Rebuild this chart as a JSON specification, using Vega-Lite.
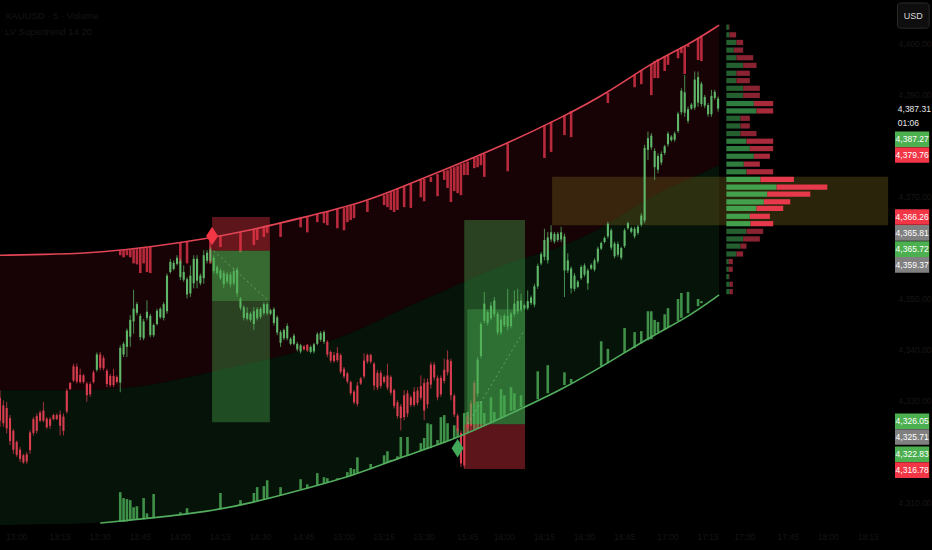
{
"$schema":"https://vega.github.io/schema/vega-lite/v6.json",
"width":932,"height":550,"padding":0,"autosize":{"type":"none"},
"background":"#000000",
"config":{"view":{"stroke":null},"text":{"font":"Liberation Sans"}},
"datasets":{
"bands":[
{"bar":0,"upper":4358.5,"mid":4332.0,"lower":4305.5},
{"bar":18,"upper":4358.7,"mid":4332.0,"lower":4305.7},
{"bar":30,"upper":4359.1,"mid":4332.0,"lower":4305.9},
{"bar":45,"upper":4360.1,"mid":4332.8,"lower":4306.85},
{"bar":63,"upper":4361.9,"mid":4335.5,"lower":4308.2},
{"bar":75,"upper":4363.4,"mid":4337.3,"lower":4309.8},
{"bar":90,"upper":4365.8,"mid":4339.5,"lower":4312.35},
{"bar":108,"upper":4368.75,"mid":4343.8,"lower":4315.7},
{"bar":118,"upper":4371.3,"mid":4347.3,"lower":4318.4},
{"bar":135,"upper":4375.8,"mid":4352.05,"lower":4322.0},
{"bar":152,"upper":4380.5,"mid":4357.2,"lower":4327.1},
{"bar":168,"upper":4385.5,"mid":4359.9,"lower":4332.0},
{"bar":182,"upper":4390.4,"mid":4364.4,"lower":4337.3},
{"bar":195,"upper":4396.3,"mid":4370.3,"lower":4342.6},
{"bar":206,"upper":4399.8,"mid":4373.3,"lower":4346.35},
{"bar":215.3,"upper":4403.7,"mid":4376.2,"lower":4350.7}
],
"redBars":[
{"bar":36,"price":4359.5,"end":4358.5},{"bar":37,"price":4359.5,"end":4358.1},{"bar":38,"price":4359.5,"end":4358.5},{"bar":39,"price":4359.6,"end":4358.1},{"bar":40,"price":4359.7,"end":4356.9},{"bar":41,"price":4359.7,"end":4356.7},{"bar":42,"price":4359.9,"end":4355.0},{"bar":43,"price":4359.9,"end":4356.9},{"bar":44,"price":4360.0,"end":4355.2},{"bar":45,"price":4360.1,"end":4355.0},{"bar":54,"price":4360.9,"end":4356.9},{"bar":56,"price":4361.1,"end":4356.9},{"bar":63,"price":4361.9,"end":4356.9},{"bar":66,"price":4362.3,"end":4360.1},{"bar":72,"price":4363.05,"end":4359.1},{"bar":76,"price":4363.6,"end":4360.5},{"bar":77,"price":4363.8,"end":4361.5},{"bar":79,"price":4364.2,"end":4362.1},{"bar":80,"price":4364.4,"end":4362.9},{"bar":84,"price":4365.0,"end":4362.1},{"bar":90,"price":4365.8,"end":4364.0},{"bar":92,"price":4366.0,"end":4363.0},{"bar":95,"price":4366.6,"end":4365.0},{"bar":97,"price":4366.8,"end":4364.8},{"bar":98,"price":4367.0,"end":4364.4},{"bar":101,"price":4367.6,"end":4363.8},{"bar":103,"price":4367.75,"end":4363.4},{"bar":104,"price":4368.0,"end":4365.0},{"bar":105,"price":4368.2,"end":4365.4},{"bar":106,"price":4368.35,"end":4365.8},{"bar":110,"price":4369.3,"end":4367.0},{"bar":115,"price":4370.3,"end":4368.35},{"bar":116,"price":4370.6,"end":4367.95},{"bar":117,"price":4370.9,"end":4367.4},{"bar":118,"price":4371.1,"end":4367.0},{"bar":119,"price":4371.5,"end":4367.4},{"bar":121,"price":4372.1,"end":4367.95},{"bar":123,"price":4372.5,"end":4367.8},{"bar":126,"price":4373.3,"end":4369.9},{"bar":127,"price":4373.5,"end":4369.1},{"bar":129,"price":4373.9,"end":4372.9},{"bar":131,"price":4374.45,"end":4370.1},{"bar":133,"price":4375.05,"end":4373.3},{"bar":134,"price":4375.2,"end":4371.7},{"bar":135,"price":4375.6,"end":4368.95},{"bar":136,"price":4375.8,"end":4371.1},{"bar":137,"price":4376.1,"end":4370.7},{"bar":138,"price":4376.4,"end":4370.3},{"bar":139,"price":4376.6,"end":4374.25},{"bar":140,"price":4376.9,"end":4374.25},{"bar":142,"price":4377.6,"end":4375.6},{"bar":143,"price":4377.8,"end":4375.8},{"bar":144,"price":4378.2,"end":4376.2},{"bar":145,"price":4378.4,"end":4373.9},{"bar":152,"price":4380.5,"end":4375.0},{"bar":163,"price":4384.1,"end":4377.6},{"bar":165,"price":4384.7,"end":4378.8},{"bar":169,"price":4386.0,"end":4382.1},{"bar":171,"price":4386.8,"end":4381.7},{"bar":182,"price":4390.4,"end":4388.4},{"bar":190,"price":4393.9,"end":4391.5},{"bar":192,"price":4394.9,"end":4392.1},{"bar":195,"price":4396.1,"end":4389.95},{"bar":196,"price":4396.65,"end":4393.3},{"bar":197,"price":4397.05,"end":4393.3},{"bar":199,"price":4397.6,"end":4394.7},{"bar":200,"price":4397.8,"end":4395.9},{"bar":203,"price":4399.0,"end":4397.2},{"bar":204,"price":4399.4,"end":4398.2},{"bar":205,"price":4399.6,"end":4394.1},{"bar":206,"price":4400.0,"end":4399.4},{"bar":209,"price":4401.2,"end":4396.85},{"bar":210,"price":4401.6,"end":4396.65}
],
"greenBars":[
{"bar":36,"price":4306.1,"end":4311.96},{"bar":37,"price":4306.1,"end":4310.8},{"bar":38,"price":4306.2,"end":4310.6},{"bar":39,"price":4306.3,"end":4310.4},{"bar":40,"price":4306.5,"end":4309.0},{"bar":41,"price":4306.5,"end":4309.2},{"bar":43,"price":4306.65,"end":4310.8},{"bar":44,"price":4306.85,"end":4307.8},{"bar":46,"price":4306.85,"end":4311.6},{"bar":54,"price":4307.45,"end":4308.0},{"bar":56,"price":4307.65,"end":4308.8},{"bar":66,"price":4308.6,"end":4311.8},{"bar":72,"price":4309.4,"end":4310.4},{"bar":76,"price":4310.0,"end":4311.8},{"bar":77,"price":4310.2,"end":4312.95},{"bar":79,"price":4310.6,"end":4313.15},{"bar":80,"price":4310.8,"end":4314.3},{"bar":84,"price":4311.4,"end":4312.95},{"bar":90,"price":4312.55,"end":4314.5},{"bar":92,"price":4312.75,"end":4313.5},{"bar":95,"price":4313.3,"end":4315.7},{"bar":97,"price":4313.7,"end":4314.9},{"bar":98,"price":4313.9,"end":4314.7},{"bar":101,"price":4314.5,"end":4314.7},{"bar":104,"price":4314.9,"end":4315.9},{"bar":105,"price":4315.1,"end":4316.7},{"bar":106,"price":4315.3,"end":4316.5},{"bar":107,"price":4315.7,"end":4318.8},{"bar":111,"price":4316.5,"end":4317.5},{"bar":115,"price":4317.5,"end":4319.2},{"bar":116,"price":4317.7,"end":4320.0},{"bar":117,"price":4318.05,"end":4318.3},{"bar":119,"price":4318.4,"end":4319.0},{"bar":120,"price":4318.8,"end":4322.8},{"bar":122,"price":4319.2,"end":4322.8},{"bar":126,"price":4320.0,"end":4321.6},{"bar":127,"price":4320.2,"end":4322.6},{"bar":128,"price":4320.4,"end":4325.5},{"bar":129,"price":4320.6,"end":4325.3},{"bar":131,"price":4321.2,"end":4322.2},{"bar":132,"price":4321.4,"end":4326.7},{"bar":133,"price":4321.6,"end":4327.1},{"bar":134,"price":4322.0,"end":4325.5},{"bar":136,"price":4322.6,"end":4325.1},{"bar":137,"price":4322.8,"end":4324.5},{"bar":139,"price":4323.4,"end":4327.5},{"bar":140,"price":4323.6,"end":4327.7},{"bar":142,"price":4324.3,"end":4329.6},{"bar":143,"price":4324.5,"end":4329.8},{"bar":144,"price":4324.9,"end":4329.8},{"bar":145,"price":4325.1,"end":4327.5},{"bar":147,"price":4325.7,"end":4330.6},{"bar":148,"price":4325.9,"end":4327.7},{"bar":150,"price":4326.5,"end":4332.2},{"bar":151,"price":4326.9,"end":4331.0},{"bar":153,"price":4327.9,"end":4332.6},{"bar":154,"price":4328.1,"end":4331.4},{"bar":156,"price":4328.7,"end":4331.0},{"bar":161,"price":4330.2,"end":4335.7},{"bar":164,"price":4331.4,"end":4336.9},{"bar":169,"price":4333.0,"end":4335.5},{"bar":171,"price":4333.4,"end":4334.2},{"bar":180,"price":4336.7,"end":4341.6},{"bar":182,"price":4337.3,"end":4340.1},{"bar":187,"price":4339.3,"end":4344.2},{"bar":190,"price":4340.3,"end":4343.4},{"bar":192,"price":4341.2,"end":4343.6},{"bar":194,"price":4341.8,"end":4347.5},{"bar":195,"price":4342.0,"end":4347.5},{"bar":196,"price":4343.0,"end":4345.8},{"bar":197,"price":4343.4,"end":4345.4},{"bar":199,"price":4344.0,"end":4346.9},{"bar":200,"price":4344.4,"end":4348.1},{"bar":203,"price":4345.6,"end":4349.9},{"bar":204,"price":4346.2,"end":4351.1},{"bar":206,"price":4347.1,"end":4351.3},{"bar":209,"price":4348.5,"end":4349.9},{"bar":210,"price":4349.1,"end":4349.5}
],
"candles":[
{"bar":0,"high":4332.0,"low":4324.8,"open":4330.5,"close":4326.0,"trend":"bear"},
{"bar":1,"high":4330.0,"low":4324.8,"open":4329.0,"close":4325.5,"trend":"bear"},
{"bar":2,"high":4329.7,"low":4323.5,"open":4328.5,"close":4324.5,"trend":"bear"},
{"bar":3,"high":4327.1,"low":4321.2,"open":4326.5,"close":4322.0,"trend":"bear"},
{"bar":4,"high":4324.4,"low":4319.5,"open":4324.0,"close":4320.3,"trend":"bear"},
{"bar":5,"high":4322.1,"low":4318.9,"open":4321.8,"close":4319.3,"trend":"bear"},
{"bar":6,"high":4320.8,"low":4317.9,"open":4320.3,"close":4318.5,"trend":"bear"},
{"bar":7,"high":4319.5,"low":4317.55,"open":4319.2,"close":4317.8,"trend":"bear"},
{"bar":8,"high":4319.8,"low":4317.55,"open":4318.0,"close":4319.4,"trend":"bear"},
{"bar":9,"high":4324.1,"low":4319.5,"open":4320.2,"close":4323.7,"trend":"bear"},
{"bar":10,"high":4326.7,"low":4323.1,"open":4323.6,"close":4326.3,"trend":"bear"},
{"bar":11,"high":4327.4,"low":4323.45,"open":4324.0,"close":4326.9,"trend":"bear"},
{"bar":12,"high":4328.0,"low":4325.7,"open":4327.6,"close":4326.0,"trend":"bear"},
{"bar":13,"high":4329.7,"low":4325.7,"open":4328.0,"close":4326.0,"trend":"bear"},
{"bar":14,"high":4326.7,"low":4324.4,"open":4326.4,"close":4324.7,"trend":"bear"},
{"bar":15,"high":4326.7,"low":4324.4,"open":4325.0,"close":4326.3,"trend":"bear"},
{"bar":16,"high":4327.4,"low":4326.1,"open":4326.3,"close":4327.1,"trend":"bear"},
{"bar":17,"high":4327.4,"low":4326.1,"open":4327.1,"close":4326.3,"trend":"bear"},
{"bar":18,"high":4328.0,"low":4323.1,"open":4327.2,"close":4325.0,"trend":"bear"},
{"bar":19,"high":4327.4,"low":4323.1,"open":4324.0,"close":4326.8,"trend":"bear"},
{"bar":20,"high":4332.3,"low":4327.4,"open":4327.8,"close":4331.9,"trend":"bear"},
{"bar":21,"high":4333.6,"low":4332.0,"open":4332.2,"close":4333.4,"trend":"bear"},
{"bar":22,"high":4337.2,"low":4333.6,"open":4333.9,"close":4336.7,"trend":"bear"},
{"bar":23,"high":4337.2,"low":4333.3,"open":4336.6,"close":4333.7,"trend":"bear"},
{"bar":24,"high":4336.2,"low":4333.3,"open":4335.0,"close":4333.6,"trend":"bear"},
{"bar":25,"high":4335.2,"low":4333.3,"open":4334.9,"close":4333.6,"trend":"bear"},
{"bar":26,"high":4333.6,"low":4329.7,"open":4333.3,"close":4331.0,"trend":"bear"},
{"bar":27,"high":4333.6,"low":4330.7,"open":4331.2,"close":4333.2,"trend":"bear"},
{"bar":28,"high":4335.9,"low":4333.3,"open":4333.6,"close":4335.5,"trend":"bear"},
{"bar":29,"high":4339.4,"low":4335.6,"open":4336.0,"close":4339.0,"trend":"bull"},
{"bar":30,"high":4339.5,"low":4335.9,"open":4339.0,"close":4336.4,"trend":"bear"},
{"bar":31,"high":4338.8,"low":4335.9,"open":4338.3,"close":4336.3,"trend":"bear"},
{"bar":32,"high":4336.2,"low":4332.6,"open":4335.8,"close":4333.2,"trend":"bear"},
{"bar":33,"high":4335.2,"low":4332.6,"open":4333.0,"close":4334.8,"trend":"bear"},
{"bar":34,"high":4336.2,"low":4332.6,"open":4334.8,"close":4333.0,"trend":"bear"},
{"bar":35,"high":4334.9,"low":4333.3,"open":4333.6,"close":4334.6,"trend":"bear"},
{"bar":36,"high":4340.8,"low":4331.6,"open":4333.5,"close":4340.3,"trend":"bull"},
{"bar":37,"high":4341.5,"low":4338.5,"open":4339.0,"close":4341.1,"trend":"bull"},
{"bar":38,"high":4344.1,"low":4338.5,"open":4340.5,"close":4343.7,"trend":"bull"},
{"bar":39,"high":4346.7,"low":4340.5,"open":4342.5,"close":4345.8,"trend":"bull"},
{"bar":40,"high":4351.7,"low":4343.1,"open":4345.5,"close":4348.0,"trend":"bull"},
{"bar":41,"high":4349.3,"low":4346.7,"open":4347.2,"close":4348.9,"trend":"bull"},
{"bar":42,"high":4347.0,"low":4341.8,"open":4346.6,"close":4342.4,"trend":"bull"},
{"bar":43,"high":4346.0,"low":4341.8,"open":4342.2,"close":4345.5,"trend":"bull"},
{"bar":44,"high":4349.65,"low":4345.7,"open":4346.2,"close":4347.4,"trend":"bull"},
{"bar":45,"high":4347.0,"low":4342.4,"open":4346.6,"close":4342.8,"trend":"bull"},
{"bar":46,"high":4345.1,"low":4342.4,"open":4342.8,"close":4344.8,"trend":"bull"},
{"bar":47,"high":4348.0,"low":4344.7,"open":4345.0,"close":4347.6,"trend":"bull"},
{"bar":48,"high":4348.3,"low":4346.0,"open":4346.3,"close":4348.0,"trend":"bull"},
{"bar":49,"high":4349.3,"low":4345.7,"open":4346.2,"close":4348.9,"trend":"bull"},
{"bar":50,"high":4354.9,"low":4347.0,"open":4347.5,"close":4354.5,"trend":"bull"},
{"bar":51,"high":4357.8,"low":4354.9,"open":4355.2,"close":4357.2,"trend":"bull"},
{"bar":52,"high":4357.5,"low":4355.5,"open":4355.8,"close":4357.0,"trend":"bull"},
{"bar":53,"high":4358.5,"low":4356.5,"open":4356.8,"close":4358.0,"trend":"bull"},
{"bar":54,"high":4357.8,"low":4353.6,"open":4357.3,"close":4354.2,"trend":"bull"},
{"bar":55,"high":4356.5,"low":4353.25,"open":4355.2,"close":4353.7,"trend":"bull"},
{"bar":56,"high":4354.2,"low":4350.0,"open":4353.8,"close":4350.8,"trend":"bull"},
{"bar":57,"high":4356.5,"low":4350.3,"open":4351.0,"close":4354.5,"trend":"bull"},
{"bar":58,"high":4358.5,"low":4352.0,"open":4353.0,"close":4357.8,"trend":"bull"},
{"bar":59,"high":4358.5,"low":4352.0,"open":4357.8,"close":4353.5,"trend":"bull"},
{"bar":60,"high":4354.9,"low":4352.6,"open":4353.0,"close":4354.5,"trend":"bull"},
{"bar":61,"high":4359.5,"low":4352.9,"open":4354.0,"close":4358.5,"trend":"bull"},
{"bar":62,"high":4359.5,"low":4356.9,"open":4357.4,"close":4359.0,"trend":"bull"},
{"bar":63,"high":4360.0,"low":4356.9,"open":4359.6,"close":4357.4,"trend":"bull"},
{"bar":64,"high":4358.5,"low":4354.9,"open":4358.0,"close":4355.4,"trend":"bull"},
{"bar":65,"high":4356.5,"low":4354.6,"open":4356.2,"close":4355.0,"trend":"bull"},
{"bar":66,"high":4355.9,"low":4353.6,"open":4355.5,"close":4354.0,"trend":"bull"},
{"bar":67,"high":4355.5,"low":4352.0,"open":4355.0,"close":4352.8,"trend":"bull"},
{"bar":68,"high":4355.2,"low":4352.9,"open":4353.3,"close":4354.8,"trend":"bull"},
{"bar":69,"high":4355.2,"low":4352.2,"open":4352.8,"close":4354.7,"trend":"bull"},
{"bar":70,"high":4355.9,"low":4352.6,"open":4353.0,"close":4355.4,"trend":"bull"},
{"bar":71,"high":4356.2,"low":4350.3,"open":4355.7,"close":4351.0,"trend":"bull"},
{"bar":72,"high":4350.3,"low":4347.7,"open":4350.0,"close":4348.2,"trend":"bull"},
{"bar":73,"high":4348.7,"low":4345.7,"open":4348.3,"close":4346.2,"trend":"bull"},
{"bar":74,"high":4348.3,"low":4345.7,"open":4346.0,"close":4347.2,"trend":"bull"},
{"bar":75,"high":4347.4,"low":4345.4,"open":4345.8,"close":4347.0,"trend":"bull"},
{"bar":76,"high":4348.3,"low":4343.8,"open":4345.0,"close":4347.5,"trend":"bull"},
{"bar":77,"high":4348.3,"low":4345.7,"open":4346.1,"close":4347.9,"trend":"bull"},
{"bar":78,"high":4348.3,"low":4346.0,"open":4346.4,"close":4348.0,"trend":"bull"},
{"bar":79,"high":4349.3,"low":4346.7,"open":4347.1,"close":4348.9,"trend":"bull"},
{"bar":80,"high":4349.3,"low":4346.7,"open":4348.9,"close":4347.1,"trend":"bull"},
{"bar":81,"high":4348.0,"low":4346.7,"open":4347.0,"close":4347.7,"trend":"bull"},
{"bar":82,"high":4348.3,"low":4344.7,"open":4347.9,"close":4345.2,"trend":"bull"},
{"bar":83,"high":4346.7,"low":4342.8,"open":4346.3,"close":4343.3,"trend":"bull"},
{"bar":84,"high":4343.8,"low":4340.5,"open":4343.4,"close":4341.3,"trend":"bull"},
{"bar":85,"high":4344.1,"low":4341.8,"open":4342.2,"close":4343.8,"trend":"bull"},
{"bar":86,"high":4345.1,"low":4341.8,"open":4344.6,"close":4342.2,"trend":"bull"},
{"bar":87,"high":4342.4,"low":4340.8,"open":4342.1,"close":4341.1,"trend":"bull"},
{"bar":88,"high":4343.1,"low":4340.8,"open":4341.1,"close":4342.7,"trend":"bull"},
{"bar":89,"high":4341.5,"low":4339.6,"open":4341.1,"close":4340.0,"trend":"bull"},
{"bar":90,"high":4341.1,"low":4339.2,"open":4339.6,"close":4340.8,"trend":"bull"},
{"bar":91,"high":4340.8,"low":4339.8,"open":4340.6,"close":4340.0,"trend":"bear"},
{"bar":92,"high":4341.1,"low":4339.5,"open":4340.9,"close":4339.8,"trend":"bear"},
{"bar":93,"high":4340.8,"low":4339.2,"open":4339.5,"close":4340.5,"trend":"bull"},
{"bar":94,"high":4341.3,"low":4339.2,"open":4339.6,"close":4341.0,"trend":"bull"},
{"bar":95,"high":4343.4,"low":4340.8,"open":4341.1,"close":4343.0,"trend":"bull"},
{"bar":96,"high":4343.6,"low":4341.5,"open":4341.9,"close":4343.2,"trend":"bull"},
{"bar":97,"high":4343.75,"low":4341.1,"open":4343.4,"close":4341.5,"trend":"bull"},
{"bar":98,"high":4341.8,"low":4338.5,"open":4341.5,"close":4339.0,"trend":"bear"},
{"bar":99,"high":4339.8,"low":4337.4,"open":4339.5,"close":4337.8,"trend":"bear"},
{"bar":100,"high":4339.5,"low":4337.4,"open":4338.9,"close":4337.7,"trend":"bear"},
{"bar":101,"high":4340.5,"low":4337.5,"open":4337.9,"close":4339.3,"trend":"bear"},
{"bar":102,"high":4339.2,"low":4335.2,"open":4338.9,"close":4335.6,"trend":"bear"},
{"bar":103,"high":4336.55,"low":4334.3,"open":4336.2,"close":4334.7,"trend":"bear"},
{"bar":104,"high":4335.6,"low":4333.3,"open":4335.3,"close":4333.7,"trend":"bear"},
{"bar":105,"high":4333.9,"low":4331.0,"open":4333.6,"close":4331.4,"trend":"bear"},
{"bar":106,"high":4332.0,"low":4329.2,"open":4331.7,"close":4329.6,"trend":"bear"},
{"bar":107,"high":4333.6,"low":4328.8,"open":4329.3,"close":4332.9,"trend":"bear"},
{"bar":108,"high":4334.6,"low":4333.0,"open":4333.3,"close":4334.3,"trend":"bear"},
{"bar":109,"high":4339.2,"low":4334.3,"open":4334.7,"close":4337.8,"trend":"bear"},
{"bar":110,"high":4339.2,"low":4337.2,"open":4337.6,"close":4338.9,"trend":"bear"},
{"bar":111,"high":4339.2,"low":4337.2,"open":4338.9,"close":4337.6,"trend":"bear"},
{"bar":112,"high":4337.5,"low":4332.0,"open":4337.2,"close":4332.9,"trend":"bear"},
{"bar":113,"high":4335.9,"low":4332.0,"open":4332.5,"close":4335.4,"trend":"bear"},
{"bar":114,"high":4335.9,"low":4332.3,"open":4335.4,"close":4332.8,"trend":"bear"},
{"bar":115,"high":4334.9,"low":4333.3,"open":4333.6,"close":4334.6,"trend":"bear"},
{"bar":116,"high":4337.2,"low":4332.0,"open":4334.9,"close":4332.5,"trend":"bear"},
{"bar":117,"high":4334.9,"low":4331.0,"open":4334.6,"close":4331.5,"trend":"bear"},
{"bar":118,"high":4332.3,"low":4328.4,"open":4332.0,"close":4328.9,"trend":"bear"},
{"bar":119,"high":4330.0,"low":4326.4,"open":4329.6,"close":4326.9,"trend":"bear"},
{"bar":120,"high":4329.3,"low":4324.1,"open":4328.8,"close":4326.5,"trend":"bear"},
{"bar":121,"high":4332.0,"low":4326.1,"open":4326.7,"close":4331.0,"trend":"bear"},
{"bar":122,"high":4332.0,"low":4326.7,"open":4331.4,"close":4327.4,"trend":"bear"},
{"bar":123,"high":4331.0,"low":4328.7,"open":4329.1,"close":4330.6,"trend":"bear"},
{"bar":124,"high":4332.6,"low":4328.7,"open":4329.1,"close":4331.7,"trend":"bear"},
{"bar":125,"high":4332.6,"low":4329.0,"open":4331.9,"close":4329.5,"trend":"bear"},
{"bar":126,"high":4334.9,"low":4330.0,"open":4330.5,"close":4332.8,"trend":"bear"},
{"bar":127,"high":4334.3,"low":4326.1,"open":4333.4,"close":4328.0,"trend":"bear"},
{"bar":128,"high":4334.3,"low":4328.4,"open":4329.2,"close":4333.6,"trend":"bear"},
{"bar":129,"high":4337.5,"low":4332.3,"open":4337.0,"close":4333.1,"trend":"bear"},
{"bar":130,"high":4337.5,"low":4333.9,"open":4334.5,"close":4337.0,"trend":"bear"},
{"bar":131,"high":4334.9,"low":4330.0,"open":4334.4,"close":4330.6,"trend":"bear"},
{"bar":132,"high":4334.9,"low":4330.7,"open":4331.2,"close":4334.4,"trend":"bear"},
{"bar":133,"high":4338.2,"low":4333.3,"open":4333.8,"close":4336.0,"trend":"bear"},
{"bar":134,"high":4339.8,"low":4334.9,"open":4335.5,"close":4338.0,"trend":"bear"},
{"bar":135,"high":4338.2,"low":4330.0,"open":4337.7,"close":4331.0,"trend":"bear"},
{"bar":136,"high":4331.3,"low":4326.7,"open":4330.9,"close":4327.2,"trend":"bear"},
{"bar":137,"high":4327.4,"low":4323.45,"open":4327.0,"close":4324.0,"trend":"bear"},
{"bar":138,"high":4324.1,"low":4316.9,"open":4323.6,"close":4317.6,"trend":"bear"},
{"bar":139,"high":4323.8,"low":4316.6,"open":4317.2,"close":4323.2,"trend":"bear"},
{"bar":140,"high":4327.4,"low":4324.1,"open":4324.6,"close":4326.9,"trend":"bear"},
{"bar":141,"high":4330.0,"low":4324.1,"open":4325.0,"close":4329.4,"trend":"bear"},
{"bar":142,"high":4333.9,"low":4329.0,"open":4329.5,"close":4333.4,"trend":"bear"},
{"bar":143,"high":4338.5,"low":4330.7,"open":4331.3,"close":4338.0,"trend":"bull"},
{"bar":144,"high":4345.4,"low":4338.2,"open":4338.7,"close":4345.0,"trend":"bull"},
{"bar":145,"high":4351.3,"low":4345.1,"open":4345.6,"close":4349.0,"trend":"bull"},
{"bar":146,"high":4347.7,"low":4344.7,"open":4347.3,"close":4345.2,"trend":"bull"},
{"bar":147,"high":4349.3,"low":4345.7,"open":4346.1,"close":4348.6,"trend":"bull"},
{"bar":148,"high":4350.3,"low":4346.4,"open":4346.9,"close":4349.6,"trend":"bull"},
{"bar":149,"high":4347.4,"low":4342.8,"open":4347.0,"close":4343.3,"trend":"bull"},
{"bar":150,"high":4346.7,"low":4342.8,"open":4343.3,"close":4345.9,"trend":"bull"},
{"bar":151,"high":4347.0,"low":4344.4,"open":4344.8,"close":4346.6,"trend":"bull"},
{"bar":152,"high":4351.9,"low":4343.75,"open":4346.6,"close":4344.5,"trend":"bull"},
{"bar":153,"high":4347.4,"low":4344.1,"open":4344.6,"close":4347.0,"trend":"bull"},
{"bar":154,"high":4351.6,"low":4346.4,"open":4346.9,"close":4349.0,"trend":"bull"},
{"bar":155,"high":4351.9,"low":4347.0,"open":4349.5,"close":4347.5,"trend":"bull"},
{"bar":156,"high":4350.95,"low":4347.4,"open":4347.8,"close":4349.6,"trend":"bull"},
{"bar":157,"high":4349.0,"low":4347.7,"open":4348.0,"close":4348.7,"trend":"bull"},
{"bar":158,"high":4351.6,"low":4347.7,"open":4348.1,"close":4349.5,"trend":"bull"},
{"bar":159,"high":4350.6,"low":4348.7,"open":4349.1,"close":4350.2,"trend":"bull"},
{"bar":160,"high":4352.9,"low":4348.3,"open":4348.8,"close":4352.4,"trend":"bull"},
{"bar":161,"high":4356.85,"low":4351.9,"open":4352.4,"close":4356.4,"trend":"bull"},
{"bar":162,"high":4359.15,"low":4356.5,"open":4356.9,"close":4358.7,"trend":"bull"},
{"bar":163,"high":4363.7,"low":4357.5,"open":4358.2,"close":4361.5,"trend":"bull"},
{"bar":164,"high":4363.1,"low":4356.85,"open":4357.5,"close":4362.0,"trend":"bull"},
{"bar":165,"high":4364.4,"low":4361.1,"open":4361.6,"close":4363.0,"trend":"bull"},
{"bar":166,"high":4363.1,"low":4360.8,"open":4362.7,"close":4361.2,"trend":"bull"},
{"bar":167,"high":4363.1,"low":4361.1,"open":4361.5,"close":4362.7,"trend":"bull"},
{"bar":168,"high":4364.1,"low":4361.1,"open":4361.6,"close":4363.0,"trend":"bull"},
{"bar":169,"high":4362.75,"low":4350.3,"open":4362.2,"close":4355.5,"trend":"bull"},
{"bar":170,"high":4358.9,"low":4355.0,"open":4355.5,"close":4357.5,"trend":"bull"},
{"bar":171,"high":4356.3,"low":4351.0,"open":4355.9,"close":4352.0,"trend":"bull"},
{"bar":172,"high":4355.0,"low":4351.4,"open":4351.9,"close":4354.5,"trend":"bull"},
{"bar":173,"high":4353.65,"low":4352.0,"open":4352.3,"close":4353.3,"trend":"bull"},
{"bar":174,"high":4356.6,"low":4353.65,"open":4354.0,"close":4356.2,"trend":"bull"},
{"bar":175,"high":4356.9,"low":4354.3,"open":4354.7,"close":4356.5,"trend":"bull"},
{"bar":176,"high":4355.9,"low":4351.7,"open":4355.5,"close":4353.0,"trend":"bull"},
{"bar":177,"high":4356.9,"low":4355.6,"open":4355.9,"close":4356.6,"trend":"bull"},
{"bar":178,"high":4357.9,"low":4355.3,"open":4355.7,"close":4357.5,"trend":"bull"},
{"bar":179,"high":4360.2,"low":4356.9,"open":4357.3,"close":4359.8,"trend":"bull"},
{"bar":180,"high":4361.2,"low":4359.5,"open":4359.8,"close":4360.9,"trend":"bull"},
{"bar":181,"high":4362.2,"low":4360.85,"open":4361.1,"close":4361.9,"trend":"bull"},
{"bar":182,"high":4365.1,"low":4361.8,"open":4362.2,"close":4364.7,"trend":"bull"},
{"bar":183,"high":4363.8,"low":4359.5,"open":4363.4,"close":4360.0,"trend":"bull"},
{"bar":184,"high":4361.2,"low":4357.9,"open":4360.8,"close":4358.3,"trend":"bull"},
{"bar":185,"high":4361.2,"low":4358.2,"open":4358.6,"close":4360.7,"trend":"bull"},
{"bar":186,"high":4360.2,"low":4357.6,"open":4359.9,"close":4358.0,"trend":"bull"},
{"bar":187,"high":4363.8,"low":4359.9,"open":4360.3,"close":4363.4,"trend":"bull"},
{"bar":188,"high":4365.1,"low":4363.5,"open":4363.8,"close":4364.8,"trend":"bull"},
{"bar":189,"high":4364.1,"low":4362.8,"open":4363.8,"close":4363.1,"trend":"bull"},
{"bar":190,"high":4364.1,"low":4361.8,"open":4362.2,"close":4363.7,"trend":"bull"},
{"bar":191,"high":4364.45,"low":4362.5,"open":4362.9,"close":4364.1,"trend":"bull"},
{"bar":192,"high":4366.75,"low":4364.1,"open":4364.5,"close":4366.3,"trend":"bull"},
{"bar":193,"high":4380.2,"low":4364.8,"open":4365.3,"close":4379.6,"trend":"bull"},
{"bar":194,"high":4382.8,"low":4377.2,"open":4379.2,"close":4381.5,"trend":"bull"},
{"bar":195,"high":4382.5,"low":4379.2,"open":4379.7,"close":4382.0,"trend":"bull"},
{"bar":196,"high":4379.5,"low":4373.3,"open":4379.0,"close":4375.8,"trend":"bull"},
{"bar":197,"high":4378.5,"low":4374.6,"open":4378.0,"close":4375.3,"trend":"bull"},
{"bar":198,"high":4378.9,"low":4376.2,"open":4376.7,"close":4378.4,"trend":"bull"},
{"bar":199,"high":4380.2,"low":4378.2,"open":4378.6,"close":4379.9,"trend":"bull"},
{"bar":200,"high":4382.8,"low":4379.85,"open":4380.3,"close":4382.4,"trend":"bull"},
{"bar":201,"high":4382.1,"low":4380.8,"open":4381.1,"close":4381.8,"trend":"bull"},
{"bar":202,"high":4382.8,"low":4380.8,"open":4381.2,"close":4382.4,"trend":"bull"},
{"bar":203,"high":4386.7,"low":4382.5,"open":4382.9,"close":4386.3,"trend":"bull"},
{"bar":204,"high":4391.3,"low":4386.1,"open":4386.6,"close":4390.8,"trend":"bull"},
{"bar":205,"high":4393.9,"low":4385.7,"open":4390.5,"close":4386.5,"trend":"bull"},
{"bar":206,"high":4387.7,"low":4384.4,"open":4384.9,"close":4387.2,"trend":"bull"},
{"bar":207,"high":4388.4,"low":4387.05,"open":4387.3,"close":4388.1,"trend":"bull"},
{"bar":208,"high":4394.6,"low":4387.05,"open":4387.5,"close":4393.0,"trend":"bull"},
{"bar":209,"high":4394.6,"low":4387.7,"open":4393.5,"close":4388.5,"trend":"bull"},
{"bar":210,"high":4392.6,"low":4387.7,"open":4392.2,"close":4388.2,"trend":"bull"},
{"bar":211,"high":4390.0,"low":4387.4,"open":4389.6,"close":4387.9,"trend":"bull"},
{"bar":212,"high":4388.4,"low":4385.7,"open":4388.0,"close":4386.2,"trend":"bull"},
{"bar":213,"high":4391.0,"low":4385.7,"open":4386.2,"close":4389.8,"trend":"bull"},
{"bar":214,"high":4391.0,"low":4389.0,"open":4389.4,"close":4390.6,"trend":"bull"},
{"bar":215,"high":4389.7,"low":4386.7,"open":4389.3,"close":4387.3,"trend":"bull"}
],
"boxes":[
{"bar":63.5,"barEnd":80.8,"price":4366.0,"priceEnd":4359.37,"zone":"risk"},
{"bar":63.5,"barEnd":80.8,"price":4359.37,"priceEnd":4325.7,"zone":"reward"},
{"bar":63.5,"barEnd":80.8,"price":4359.37,"priceEnd":4349.5,"zone":"realised"},
{"bar":139,"barEnd":157.2,"price":4365.4,"priceEnd":4325.3,"zone":"reward"},
{"bar":139,"barEnd":157.2,"price":4325.3,"priceEnd":4316.5,"zone":"risk"},
{"bar":139.9,"barEnd":157.2,"price":4347.9,"priceEnd":4325.3,"zone":"realised2"}
],
"trades":[
{"bar":64,"barEnd":80.5,"price":4359.37,"priceEnd":4349.5},
{"bar":140,"barEnd":157,"price":4325.3,"priceEnd":4343.8}
],
"signals":[
{"bar":63.5,"price":4362.3,"signal":"sell"},
{"bar":137,"price":4320.6,"signal":"buy"}
],
"profile":[
{"bar":217.46,"price":4403.3,"buy":218.2,"sell":218.4,"tier":"low"},
{"bar":217.46,"price":4401.8,"buy":218.4,"sell":220.4,"tier":"low"},
{"bar":217.46,"price":4400.3,"buy":220.5,"sell":222.5,"tier":"low"},
{"bar":217.46,"price":4398.8,"buy":219.7,"sell":222.5,"tier":"low"},
{"bar":217.46,"price":4397.3,"buy":220.5,"sell":225.5,"tier":"low"},
{"bar":217.46,"price":4395.8,"buy":222.5,"sell":226.5,"tier":"low"},
{"bar":217.46,"price":4394.25,"buy":220.5,"sell":224.5,"tier":"low"},
{"bar":217.46,"price":4392.8,"buy":220.5,"sell":224.5,"tier":"low"},
{"bar":217.46,"price":4391.3,"buy":222.5,"sell":227.5,"tier":"low"},
{"bar":217.46,"price":4389.9,"buy":222.5,"sell":227.5,"tier":"low"},
{"bar":217.46,"price":4388.3,"buy":225.7,"sell":231.5,"tier":"mid"},
{"bar":217.46,"price":4386.85,"buy":226.5,"sell":231.5,"tier":"mid"},
{"bar":217.46,"price":4385.4,"buy":221.7,"sell":224.5,"tier":"low"},
{"bar":217.46,"price":4383.9,"buy":221.7,"sell":224.5,"tier":"low"},
{"bar":217.46,"price":4382.4,"buy":221.7,"sell":226.5,"tier":"low"},
{"bar":217.46,"price":4380.9,"buy":223.5,"sell":231.5,"tier":"mid"},
{"bar":217.46,"price":4379.45,"buy":224.5,"sell":231.5,"tier":"mid"},
{"bar":217.46,"price":4377.95,"buy":225.7,"sell":230.5,"tier":"mid"},
{"bar":217.46,"price":4376.4,"buy":222.7,"sell":227.5,"tier":"mid"},
{"bar":217.46,"price":4374.9,"buy":223.5,"sell":231.5,"tier":"mid"},
{"bar":217.46,"price":4373.4,"buy":227.7,"sell":237.7,"tier":"high"},
{"bar":217.46,"price":4371.9,"buy":232.5,"sell":247.7,"tier":"high"},
{"bar":217.46,"price":4370.5,"buy":229.7,"sell":242.6,"tier":"high"},
{"bar":217.46,"price":4369.0,"buy":228.7,"sell":236.6,"tier":"high"},
{"bar":217.46,"price":4367.7,"buy":226.5,"sell":234.5,"tier":"high"},
{"bar":217.46,"price":4366.15,"buy":224.5,"sell":230.5,"tier":"high"},
{"bar":217.46,"price":4364.7,"buy":224.7,"sell":231.5,"tier":"high"},
{"bar":217.46,"price":4363.2,"buy":223.5,"sell":228.5,"tier":"low"},
{"bar":217.46,"price":4361.7,"buy":222.5,"sell":227.5,"tier":"low"},
{"bar":217.46,"price":4360.3,"buy":221.7,"sell":223.5,"tier":"low"},
{"bar":217.46,"price":4358.75,"buy":220.5,"sell":222.5,"tier":"low"},
{"bar":217.46,"price":4357.25,"buy":218.2,"sell":219.4,"tier":"low"},
{"bar":217.46,"price":4355.75,"buy":218.2,"sell":219.4,"tier":"low"},
{"bar":217.46,"price":4354.3,"buy":218.2,"sell":218.4,"tier":"low"},
{"bar":217.46,"price":4352.8,"buy":218.5,"sell":219.4,"tier":"low"},
{"bar":217.46,"price":4351.35,"buy":218.5,"sell":219.4,"tier":"low"}
],
"tags":[
{"bar":267.96,"barEnd":278.2,"mid":273.1,"label":"4,387.27","price":4381.3,"kind":"up"},
{"bar":267.96,"barEnd":278.2,"mid":273.1,"label":"4,379.76","price":4378.2,"kind":"down"},
{"bar":267.96,"barEnd":278.2,"mid":273.1,"label":"4,366.26","price":4366.0,"kind":"down"},
{"bar":267.96,"barEnd":278.2,"mid":273.1,"label":"4,365.81","price":4362.9,"kind":"flat"},
{"bar":267.96,"barEnd":278.2,"mid":273.1,"label":"4,365.72","price":4359.7,"kind":"up"},
{"bar":267.96,"barEnd":278.2,"mid":273.1,"label":"4,359.37","price":4356.6,"kind":"flat"},
{"bar":267.96,"barEnd":278.2,"mid":273.1,"label":"4,326.05","price":4325.9,"kind":"up"},
{"bar":267.96,"barEnd":278.2,"mid":273.1,"label":"4,325.71","price":4322.8,"kind":"flat"},
{"bar":267.96,"barEnd":278.2,"mid":273.1,"label":"4,322.83","price":4319.4,"kind":"up"},
{"bar":267.96,"barEnd":278.2,"mid":273.1,"label":"4,316.78","price":4316.3,"kind":"down"}
]
},
"encoding":{
"x":{"field":"bar","type":"quantitative","scale":{"domain":[0,279.04],"nice":false,"zero":false},"axis":null},
"y":{"field":"price","type":"quantitative","scale":{"domain":[4300.6,4408.64],"nice":false,"zero":false},
"axis":{"orient":"right","offset":-36,"title":null,"values":[4310,4330,4340,4350,4370,4390,4400],"format":",.2f","labelColor":"#161616","labelFont":"Liberation Sans","labelFontSize":8.5,"domain":false,"ticks":false,"grid":false,"labelPadding":2}}
},
"layer":[
{"data":{"name":"bands"},"mark":{"type":"area","interpolate":"basis","color":"#170305"},
 "encoding":{"y":{"field":"upper","type":"quantitative"},"y2":{"field":"mid"}}},
{"data":{"name":"bands"},"mark":{"type":"area","interpolate":"basis","color":"#061308"},
 "encoding":{"y":{"field":"mid","type":"quantitative"},"y2":{"field":"lower"}}},
{"data":{"values":[{"bar":165.3,"barEnd":265.9,"price":4373.9,"priceEnd":4364.4}]},"mark":{"type":"rect","color":"#7a6a20","opacity":0.34},
 "encoding":{"x2":{"field":"barEnd"},"y2":{"field":"priceEnd"}}},
{"data":{"name":"redBars"},"mark":{"type":"rule","color":"#b72a3c","strokeWidth":2.6},"encoding":{"y2":{"field":"end"}}},
{"data":{"name":"greenBars"},"mark":{"type":"rule","color":"#3f9048","strokeWidth":2.6},"encoding":{"y2":{"field":"end"}}},
{"data":{"name":"candles"},"mark":{"type":"rule","strokeWidth":1,"opacity":0.75},
 "encoding":{"y":{"field":"high","type":"quantitative"},"y2":{"field":"low"},
 "color":{"field":"trend","type":"nominal","legend":null,"scale":{"domain":["bear","bull"],"range":["#d93d50","#5fb86a"]}}}},
{"data":{"name":"candles"},"mark":{"type":"rule","strokeWidth":2.1},
 "encoding":{"y":{"field":"open","type":"quantitative"},"y2":{"field":"close"},
 "color":{"field":"trend","type":"nominal","legend":null,"scale":{"domain":["bear","bull"],"range":["#d93d50","#5fb86a"]}}}},
{"data":{"name":"boxes"},"mark":{"type":"rect"},
 "encoding":{"x2":{"field":"barEnd"},"y2":{"field":"priceEnd"},
 "color":{"field":"zone","type":"nominal","legend":null,"scale":{"domain":["risk","reward","realised","realised2"],"range":["#f23645","#4caf50","#4caf50","#4caf50"]}},
 "opacity":{"field":"zone","type":"nominal","legend":null,"scale":{"domain":["risk","reward","realised","realised2"],"range":[0.38,0.36,0.22,0.55]}}}},
{"data":{"name":"trades"},"mark":{"type":"rule","color":"#9fd8a5","strokeWidth":1,"strokeDash":[2,3],"opacity":0.45},
 "encoding":{"x2":{"field":"barEnd"},"y2":{"field":"priceEnd"}}},
{"data":{"name":"bands"},"mark":{"type":"line","interpolate":"basis","color":"#e04455","strokeWidth":1.6},
 "encoding":{"y":{"field":"upper","type":"quantitative"}}},
{"data":{"name":"bands"},"transform":[{"filter":"datum.bar>=30"}],"mark":{"type":"line","interpolate":"basis","color":"#52ad5e","strokeWidth":1.6},
 "encoding":{"y":{"field":"lower","type":"quantitative"}}},
{"data":{"name":"signals"},"mark":{"type":"point","filled":true,"opacity":1,"shape":"M0,-1L0.65,0L0,1L-0.65,0Z","size":340},
 "encoding":{"color":{"field":"signal","type":"nominal","legend":null,"scale":{"domain":["sell","buy"],"range":["#f23645","#42a85a"]}}}},
{"data":{"name":"profile"},"mark":{"type":"rule","strokeWidth":5.2},
 "encoding":{"x2":{"field":"buy"},
 "color":{"field":"tier","type":"nominal","legend":null,"scale":{"domain":["low","mid","high"],"range":["#24602f","#2f7d3e","#43a04c"]}}}},
{"data":{"name":"profile"},"mark":{"type":"rule","strokeWidth":5.2},
 "encoding":{"x":{"field":"buy","type":"quantitative"},"x2":{"field":"sell"},
 "color":{"field":"tier","type":"nominal","legend":null,"scale":{"domain":["low","mid","high"],"range":["#8a2331","#a82a3b","#e63a4c"]}}}},
{"data":{"name":"tags"},"mark":{"type":"rule","strokeWidth":15.6},
 "encoding":{"x2":{"field":"barEnd"},
 "color":{"field":"kind","type":"nominal","legend":null,"scale":{"domain":["up","down","flat"],"range":["#4caf50","#f23645","#808080"]}}}},
{"data":{"name":"tags"},"mark":{"type":"text","align":"center","baseline":"middle","fontSize":8.5,"color":"#ffffff"},
 "encoding":{"x":{"field":"mid","type":"quantitative"},"text":{"field":"label"}}},
{"data":{"values":[{"bar":268.8,"label":"4,387.31","price":4387.2},{"bar":268.8,"label":"01:06","price":4384.5}]},"mark":{"type":"text","align":"left","baseline":"middle","fontSize":8.5,"color":"#e8e8e8"},
 "encoding":{"text":{"field":"label"}}},
{"data":{"values":[{"bar":268.7,"barEnd":278.2,"price":4408.05,"priceEnd":4403.1}]},"mark":{"type":"rect","color":"#0e0e0e","stroke":"#2a2a2a","strokeWidth":1,"cornerRadius":3},
 "encoding":{"x2":{"field":"barEnd"},"y2":{"field":"priceEnd"}}},
{"data":{"values":[{"bar":273.4,"price":4405.5,"label":"USD"}]},"mark":{"type":"text","align":"center","baseline":"middle","fontSize":9,"color":"#d8d8d8"},
 "encoding":{"text":{"field":"label"}}},
{"data":{"values":[{"bar":1.5,"price":4405.5,"label":"XAUUSD · 5 · Volume"},{"bar":1.5,"price":4402.4,"label":"LV Supertrend 14 20"}]},"mark":{"type":"text","align":"left","baseline":"middle","fontSize":9.5,"color":"#151515"},
 "encoding":{"text":{"field":"label"}}},
{"data":{"values":[{"bar":5,"price":4303.1,"label":"13:00"},{"bar":18,"price":4303.1,"label":"13:15"},{"bar":30,"price":4303.1,"label":"13:30"},{"bar":42,"price":4303.1,"label":"13:45"},{"bar":54,"price":4303.1,"label":"14:00"},{"bar":66,"price":4303.1,"label":"14:15"},{"bar":78,"price":4303.1,"label":"14:30"},{"bar":91,"price":4303.1,"label":"14:45"},{"bar":103,"price":4303.1,"label":"15:00"},{"bar":115,"price":4303.1,"label":"15:15"},{"bar":127,"price":4303.1,"label":"15:30"},{"bar":140,"price":4303.1,"label":"15:45"},{"bar":151,"price":4303.1,"label":"16:00"},{"bar":163,"price":4303.1,"label":"16:15"},{"bar":175,"price":4303.1,"label":"16:30"},{"bar":187,"price":4303.1,"label":"16:45"},{"bar":200,"price":4303.1,"label":"17:00"},{"bar":212,"price":4303.1,"label":"17:15"},{"bar":223,"price":4303.1,"label":"17:30"},{"bar":236,"price":4303.1,"label":"17:45"},{"bar":248,"price":4303.1,"label":"18:00"},{"bar":260,"price":4303.1,"label":"18:15"}]},
 "mark":{"type":"text","align":"center","baseline":"middle","fontSize":8.5,"color":"#151515"},
 "encoding":{"text":{"field":"label"}}}
],
"resolve":{"scale":{"color":"independent","opacity":"independent"}}
}
